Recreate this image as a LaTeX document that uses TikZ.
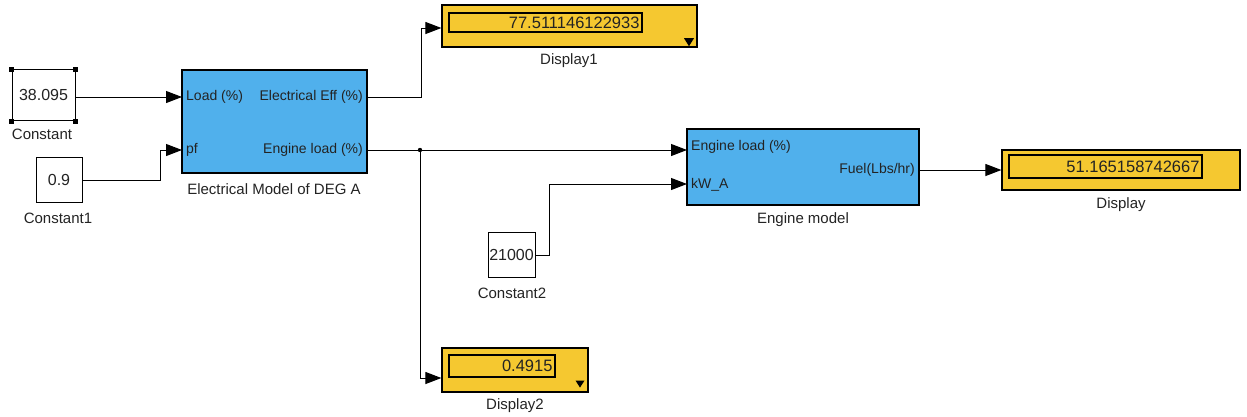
\documentclass[tikz,border=0pt]{standalone}
\usepackage{fontspec}
\setmainfont{Liberation Sans}
\usetikzlibrary{arrows.meta,shapes.geometric}
\definecolor{blk}{RGB}{80,176,236}
\definecolor{dsp}{RGB}{245,200,48}
\definecolor{txt}{RGB}{35,35,35}
\tikzset{
  x=1pt, y=-1pt,
  sig/.style={draw, line width=1pt, -{Triangle[length=16pt,width=12pt]}},
  constbox/.style={draw, line width=1pt, fill=white, rectangle, inner sep=0pt, text=txt, font=\fontsize{16}{18}\selectfont},
  subsys/.style={draw, line width=1.2pt, fill=blk, rectangle, inner sep=0pt},
  dispbox/.style={draw, line width=1.2pt, fill=dsp, rectangle, inner sep=0pt},
  dispin/.style={draw, line width=1.2pt, rectangle, inner sep=0pt, text=txt, font=\fontsize{16.5}{18}\selectfont, align=right},
  lbl/.style={font=\fontsize{15}{18}\selectfont, inner sep=0pt, text=txt},
  port/.style={font=\fontsize{14}{16}\selectfont, inner sep=0pt, text=txt},
  sel/.style={fill=black, minimum size=5pt, inner sep=0pt, rectangle},
  tri/.style={fill=black, isosceles triangle, isosceles triangle stretches, inner sep=0pt}
}
\begin{document}
\begin{tikzpicture}
\useasboundingbox (0,0) rectangle (1247,416);
% Constant
\node[constbox, minimum width=63pt, minimum height=51pt] (c0) at (43.5,95) {38.095};
\foreach \a/\n in {north west/s1,north east/s2,south west/s3,south east/s4}
  \node[sel] (\n) at (c0.\a) {};
\node[lbl] (c0l) at (42,134) {Constant};
% Constant1
\node[constbox, minimum width=46pt, minimum height=45pt] (c1) at (59,180) {0.9};
\node[lbl] (c1l) at (58,218) {Constant1};
% Electrical model
\node[subsys, minimum width=185pt, minimum height=103pt] (em) at (274.5,121.5) {};
\node[lbl] (eml) at (274,189) {Electrical Model of DEG A};
\coordinate (emi1) at (182,97);
\coordinate (emi2) at (182,150);
\coordinate (emo1) at (367,97);
\coordinate (emo2) at (367,150);
\node[port, anchor=west] (p1) at (186,97) {Load (\%)};
\node[port, anchor=west] (p2) at (186,150) {pf};
\node[port, anchor=east] (p3) at (363,97) {Electrical Eff (\%)};
\node[port, anchor=east] (p4) at (363,150) {Engine load (\%)};
% Display1
\node[dispbox, minimum width=255pt, minimum height=42pt] (d1) at (569.5,26) {};
\node[dispin, minimum width=193pt, minimum height=19pt, text width=188pt] (d1i) at (545.5,22.5) {77.511146122933};
\node[tri, shape border rotate=270, minimum width=10pt, minimum height=8pt] (d1t) at (689,41) {};
\node[lbl] (d1l) at (569,61) {Display1};
% Display2
\node[dispbox, minimum width=146pt, minimum height=44pt] (d2) at (515,370) {};
\node[dispin, minimum width=106pt, minimum height=22pt, text width=101pt] (d2i) at (502,366) {0.4915};
\node[tri, shape border rotate=270, minimum width=9pt, minimum height=7pt] (d2t) at (580,383) {};
\node[lbl] (d2l) at (515,406) {Display2};
% Engine model
\node[subsys, minimum width=232pt, minimum height=76pt] (en) at (803,167) {};
\node[lbl] (enl) at (803,220) {Engine model};
\coordinate (eni1) at (687,149);
\coordinate (eni2) at (687,184);
\coordinate (eno) at (919,170);
\node[port, anchor=west] (q1) at (691,147) {Engine load (\%)};
\node[port, anchor=west] (q2) at (691,185) {kW\_A};
\node[port, anchor=east] (q3) at (915,170) {Fuel(Lbs/hr)};
% Display
\node[dispbox, minimum width=238pt, minimum height=40pt] (d0) at (1121,170) {};
\node[dispin, minimum width=193pt, minimum height=23pt, text width=188pt] (d0i) at (1105.5,166.5) {51.165158742667};
\node[lbl] (d0l) at (1121,205) {Display};
% Constant2
\node[constbox, minimum width=47pt, minimum height=45pt] (c2) at (511.5,255) {21000};
\node[lbl] (c2l) at (512,293) {Constant2};
% Connectors
\coordinate (j) at (420,150);
\fill (j) circle (2.2pt);
\draw[sig] (c0.east |- emi1) -- (emi1);
\draw[sig] (c1.east) -- (160,180) -- (160,150) -- (emi2);
\draw[sig] (emo1) -- (421,97) -- (421,28) -- (d1.west |- 0,28);
\draw[sig] (emo2) -- (eni1 |- emo2);
\draw[sig] (j) -- (420,378) -- (d2.west |- 0,378);
\draw[sig] (c2.east) -- (549,255) -- (549,184) -- (eni2);
\draw[sig] (eno) -- (d0.west |- eno);
\end{tikzpicture}
\end{document}
